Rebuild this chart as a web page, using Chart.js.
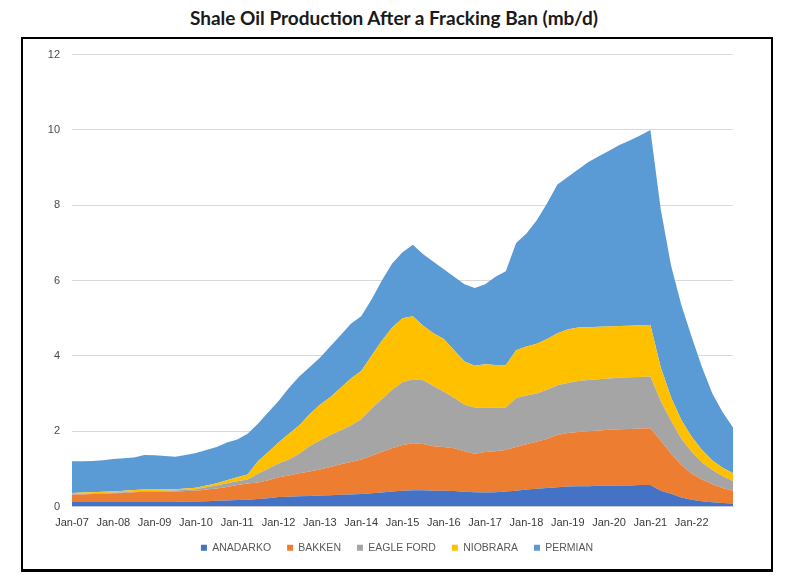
<!DOCTYPE html>
<html>
<head>
<meta charset="utf-8">
<script src="https://cdn.jsdelivr.net/npm/chart.js@4.4.1/dist/chart.umd.min.js"></script>
<style>
    body { margin: 0; background: #fff; width: 788px; height: 582px; position: relative; overflow: hidden; }
    #title {
        position: absolute; left: 0; top: 6px; width: 788px; text-align: center;
        font-family: "Lato", sans-serif; font-weight: bold; font-size: 19px; color: #1a1a1a;
    }
    #frame {
        position: absolute; left: 21px; top: 37px; width: 748px; height: 530px;
        border: 2px solid #000; border-bottom-width: 3px;
    }
    #wrap { position: absolute; left: 0; top: -3px; width: 748px; height: 533px; }
</style>
</head>
<body>
<div id="title">Shale Oil Production After a Fracking Ban (mb/d)</div>
<div id="frame">
    <div id="wrap"><canvas id="area-chart"></canvas></div>
</div>
<script>
// quarterly points, Jan-07 to Jan-23
const categories = [
    "Jan-07", "Apr-07", "Jul-07", "Oct-07", "Jan-08", "Apr-08", "Jul-08", "Oct-08",
    "Jan-09", "Apr-09", "Jul-09", "Oct-09", "Jan-10", "Apr-10", "Jul-10", "Oct-10",
    "Jan-11", "Apr-11", "Jul-11", "Oct-11", "Jan-12", "Apr-12", "Jul-12", "Oct-12",
    "Jan-13", "Apr-13", "Jul-13", "Oct-13", "Jan-14", "Apr-14", "Jul-14", "Oct-14",
    "Jan-15", "Apr-15", "Jul-15", "Oct-15", "Jan-16", "Apr-16", "Jul-16", "Oct-16",
    "Jan-17", "Apr-17", "Jul-17", "Oct-17", "Jan-18", "Apr-18", "Jul-18", "Oct-18",
    "Jan-19", "Apr-19", "Jul-19", "Oct-19", "Jan-20", "Apr-20", "Jul-20", "Oct-20",
    "Jan-21", "Apr-21", "Jul-21", "Oct-21", "Jan-22", "Apr-22", "Jul-22", "Oct-22",
    "Jan-23"
];

const tickLabels = [
    "Jan-07", "Jan-08", "Jan-09", "Jan-10", "Jan-11", "Jan-12", "Jan-13", "Jan-14",
    "Jan-15", "Jan-16", "Jan-17", "Jan-18", "Jan-19", "Jan-20", "Jan-21", "Jan-22"
];

const anadarko = [
    0.12, 0.12, 0.12, 0.12, 0.12, 0.12, 0.12, 0.12,
    0.12, 0.12, 0.12, 0.13, 0.13, 0.14, 0.15, 0.16,
    0.17, 0.18, 0.20, 0.22, 0.25, 0.26, 0.27, 0.28,
    0.29, 0.30, 0.31, 0.32, 0.33, 0.35, 0.37, 0.40,
    0.42, 0.43, 0.43, 0.42, 0.42, 0.41, 0.39, 0.38,
    0.37, 0.38, 0.40, 0.42, 0.45, 0.47, 0.49, 0.51,
    0.53, 0.54, 0.54, 0.55, 0.55, 0.56, 0.56, 0.57,
    0.57, 0.42, 0.34, 0.24, 0.18, 0.14, 0.11, 0.09,
    0.08
];

const bakken = [
    0.20, 0.20, 0.21, 0.22, 0.23, 0.24, 0.26, 0.27,
    0.28, 0.28, 0.28, 0.28, 0.29, 0.31, 0.33, 0.36,
    0.40, 0.43, 0.44, 0.48, 0.53, 0.56, 0.61, 0.65,
    0.69, 0.75, 0.81, 0.86, 0.92, 1.00, 1.08, 1.15,
    1.21, 1.25, 1.23, 1.18, 1.16, 1.14, 1.08, 1.02,
    1.08, 1.09, 1.10, 1.16, 1.20, 1.25, 1.31, 1.39,
    1.42, 1.44, 1.46, 1.47, 1.49, 1.49, 1.50, 1.50,
    1.51, 1.33, 1.06, 0.86, 0.69, 0.58, 0.48, 0.40,
    0.34
];

const eagleFord = [
    0.01, 0.02, 0.02, 0.02, 0.02, 0.02, 0.02, 0.02,
    0.01, 0.02, 0.03, 0.03, 0.04, 0.06, 0.08, 0.10,
    0.10, 0.11, 0.23, 0.30, 0.36, 0.43, 0.52, 0.67,
    0.77, 0.85, 0.90, 0.97, 1.07, 1.25, 1.40, 1.55,
    1.67, 1.70, 1.69, 1.60, 1.47, 1.33, 1.23, 1.23,
    1.18, 1.15, 1.13, 1.30, 1.30, 1.28, 1.30, 1.32,
    1.33, 1.35, 1.36, 1.36, 1.36, 1.37, 1.37, 1.37,
    1.37, 1.05, 0.88, 0.70, 0.58, 0.45, 0.38, 0.31,
    0.26
];

const niobrara = [
    0.03, 0.03, 0.03, 0.03, 0.03, 0.04, 0.04, 0.04,
    0.04, 0.03, 0.03, 0.04, 0.04, 0.05, 0.06, 0.08,
    0.11, 0.13, 0.33, 0.45, 0.56, 0.68, 0.75, 0.85,
    0.95, 1.00, 1.13, 1.25, 1.28, 1.40, 1.55, 1.65,
    1.70, 1.67, 1.45, 1.40, 1.40, 1.27, 1.15, 1.11,
    1.15, 1.14, 1.12, 1.27, 1.30, 1.32, 1.35, 1.38,
    1.42, 1.42, 1.40, 1.39, 1.38, 1.37, 1.37, 1.37,
    1.37, 0.90, 0.62, 0.50, 0.40, 0.33, 0.25, 0.23,
    0.20
];

const permian = [
    0.84, 0.83, 0.83, 0.84, 0.86, 0.86, 0.86, 0.92,
    0.91, 0.89, 0.86, 0.89, 0.92, 0.94, 0.96, 1.00,
    1.00, 1.08, 1.00, 1.05, 1.10, 1.22, 1.30, 1.25,
    1.25, 1.35, 1.40, 1.45, 1.45, 1.50, 1.60, 1.70,
    1.75, 1.90, 1.90, 1.90, 1.85, 1.95, 2.05, 2.06,
    2.12, 2.34, 2.50, 2.85, 3.00, 3.28, 3.60, 3.95,
    4.05, 4.20, 4.39, 4.53, 4.67, 4.81, 4.92, 5.04,
    5.18, 4.20, 3.50, 3.05, 2.65, 2.20, 1.78, 1.47,
    1.22
];

const seriesNames = ["ANADARKO", "BAKKEN", "EAGLE FORD", "NIOBRARA", "PERMIAN"];
const seriesColors = ["#4472C4", "#ED7D31", "#A5A5A5", "#FFC000", "#5B9BD5"];
const yTicks = [0, 2, 4, 6, 8, 10, 12];

const seriesData = [anadarko, bakken, eagleFord, niobrara, permian];

const chartConfig = {
    type: "line",
    data: {
        labels: categories,
        datasets: seriesData.map((values, i) => ({
            label: seriesNames[i],
            data: values,
            backgroundColor: seriesColors[i],
            borderColor: seriesColors[i],
            borderWidth: 0,
            pointRadius: 0,
            tension: 0,
            fill: i === 0 ? "origin" : "-1",
        })),
    },
    options: {
        responsive: true,
        maintainAspectRatio: false,
        animation: false,
        layout: {
            padding: { top: 3, right: 0, bottom: 6, left: 0 },
        },
        plugins: {
            legend: {
                position: "bottom",
                labels: {
                    boxWidth: 6,
                    boxHeight: 6,
                    padding: 16,
                    color: "#595959",
                    font: { family: "Liberation Sans", size: 10.5 },
                },
            },
            tooltip: { enabled: false },
        },
        scales: {
            x: {
                offset: false,
                grid: { display: false, drawTicks: false },
                border: { color: "#d9d9d9" },
                afterFit: (scale) => {
                    scale.height = 20;
                },
                ticks: {
                    autoSkip: false,
                    maxRotation: 0,
                    padding: 10,
                    color: "#3a3a3a",
                    font: { family: "Liberation Sans", size: 11 },
                    callback: function (value, index) {
                        const label = categories[index];
                        return tickLabels.includes(label) ? label : "";
                    },
                },
            },
            y: {
                stacked: true,
                min: 0,
                max: 12,
                afterBuildTicks: (scale) => {
                    scale.ticks = yTicks.map((v) => ({ value: v }));
                },
                afterFit: (scale) => {
                    scale.width = 49;
                },
                grid: { color: "#d9d9d9", drawTicks: false },
                border: { display: false },
                ticks: {
                    padding: 12,
                    color: "#4a4a4a",
                    font: { family: "Liberation Sans", size: 11 },
                },
            },
            // empty right-hand axis, only to keep the plot narrower than the legend row
            yRight: {
                position: "right",
                grid: { display: false },
                border: { display: false },
                ticks: { display: false },
                afterFit: (scale) => {
                    scale.width = 38;
                },
            },
        },
    },
};

const ctx = document.getElementById("area-chart").getContext("2d");
new Chart(ctx, chartConfig);
</script>
</body>
</html>
